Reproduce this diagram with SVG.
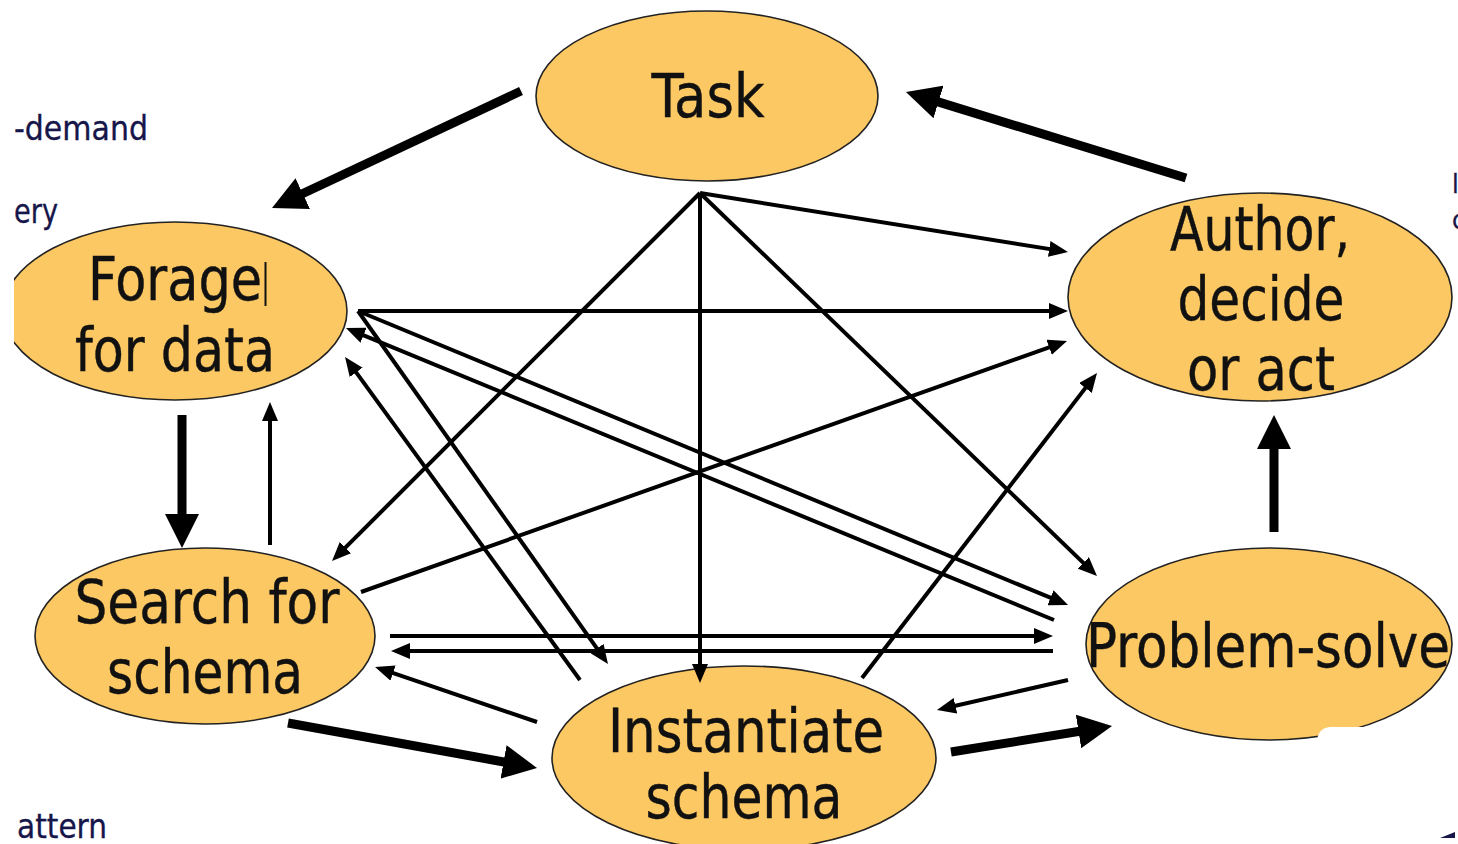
<svg xmlns="http://www.w3.org/2000/svg" width="1458" height="844" viewBox="0 0 1458 844">
  <style>
    .node ellipse { fill: #FCC863; stroke: #222; stroke-width: 1.6; }
    .label { font-family: "DejaVu Sans Condensed", "DejaVu Sans", sans-serif; font-size: 60px; fill: #111; stroke: #111; stroke-width: 0.4; text-anchor: middle; }
    .side { font-family: "DejaVu Sans Condensed", "DejaVu Sans", sans-serif; font-size: 33px; fill: #16164a; stroke: #16164a; stroke-width: 0.3; }
    .edge-frag { font-size: 27px; }
    .thin { stroke: #000; stroke-width: 4; fill: none; marker-end: url(#headThin); }
    .thick { stroke: #000; stroke-width: 9; fill: none; marker-end: url(#headThick); }
  </style>
  <defs>
    <clipPath id="frame">
      <rect x="14" y="10" width="1444" height="834"/>
    </clipPath>
    <marker id="headThin" markerUnits="userSpaceOnUse" markerWidth="19" markerHeight="16" refX="9" refY="8" orient="auto">
      <path d="M0,0 L19,8 L0,16 z" fill="#000"/>
    </marker>
    <marker id="headThick" markerUnits="userSpaceOnUse" markerWidth="34" markerHeight="34" refX="14" refY="17" orient="auto">
      <path d="M0,0 L34,17 L0,34 z" fill="#000"/>
    </marker>
  </defs>

  <rect width="1458" height="844" fill="#fff"/>

  <g clip-path="url(#frame)">
    <!-- margin text -->
    <g id="margin-text">
      <text class="side" x="14" y="140" textLength="134" lengthAdjust="spacingAndGlyphs">-demand</text>
      <text class="side" x="14" y="223" textLength="44" lengthAdjust="spacingAndGlyphs">ery</text>
      <text class="side" x="17" y="838" textLength="90" lengthAdjust="spacingAndGlyphs">attern</text>
      <text class="side edge-frag" x="1452" y="193">l</text>
      <text class="side edge-frag" x="1452" y="229">c</text>
    </g>

    <!-- nodes -->
    <g id="task" class="node">
      <ellipse cx="707" cy="96" rx="171" ry="85"/>
      <text class="label" x="708" y="117" textLength="113" lengthAdjust="spacingAndGlyphs">Task</text>
    </g>
    <g id="forage" class="node">
      <ellipse cx="175" cy="311" rx="172" ry="89"/>
      <text class="label" x="175" y="300" textLength="174" lengthAdjust="spacingAndGlyphs">Forage</text>
      <text class="label" x="175" y="371" textLength="200" lengthAdjust="spacingAndGlyphs">for data</text>
      <line x1="265.5" y1="262" x2="265.5" y2="306" stroke="#111" stroke-width="2"/>
    </g>
    <g id="search" class="node">
      <ellipse cx="205" cy="636" rx="170" ry="88"/>
      <text class="label" x="207" y="623" textLength="265" lengthAdjust="spacingAndGlyphs">Search for</text>
      <text class="label" x="205" y="693" textLength="196" lengthAdjust="spacingAndGlyphs">schema</text>
    </g>
    <g id="instantiate" class="node">
      <ellipse cx="744" cy="758" rx="192" ry="92"/>
      <text class="label" x="746" y="752" textLength="276" lengthAdjust="spacingAndGlyphs">Instantiate</text>
      <text class="label" x="744" y="818" textLength="197" lengthAdjust="spacingAndGlyphs">schema</text>
    </g>
    <g id="author" class="node">
      <ellipse cx="1260" cy="297" rx="192" ry="104"/>
      <text class="label" x="1260" y="250" textLength="180" lengthAdjust="spacingAndGlyphs">Author,</text>
      <text class="label" x="1261" y="320" textLength="167" lengthAdjust="spacingAndGlyphs">decide</text>
      <text class="label" x="1261" y="390" textLength="148" lengthAdjust="spacingAndGlyphs">or act</text>
    </g>
    <g id="problem-solve" class="node">
      <ellipse cx="1269" cy="644" rx="183" ry="96"/>
      <text class="label" x="1268" y="667" textLength="364" lengthAdjust="spacingAndGlyphs">Problem-solve</text>
    </g>

    <!-- patch covering the lower edge of the right-hand ellipse -->
    <path d="M1317,741 Q1318,728 1330,727 L1440,727 L1440,742 Z" fill="#fff"/>
    <path d="M1440,838 L1455,832 L1455,838 Z" fill="#16164a"/>

    <!-- connectors -->
    <g id="connectors">
      <!-- heavy main cycle -->
      <line class="thick" x1="521" y1="91" x2="290.1" y2="199.5"/>
      <line class="thick" x1="1186" y1="178" x2="925.1" y2="97.9"/>
      <line class="thick" x1="182" y1="415" x2="182" y2="528"/>
      <line class="thick" x1="288" y1="723" x2="517.3" y2="764.4"/>
      <line class="thick" x1="951" y1="752" x2="1092.3" y2="729.2"/>
      <line class="thick" x1="1274" y1="532" x2="1274" y2="435"/>

      <!-- light cross links -->
      <line class="thin" x1="270" y1="545" x2="270" y2="412"/>
      <line class="thin" x1="700" y1="193" x2="1058.1" y2="250.4"/>
      <line class="thin" x1="700" y1="193" x2="339.1" y2="553.9"/>
      <line class="thin" x1="700" y1="193" x2="700" y2="673"/>
      <line class="thin" x1="700" y1="193" x2="1089.8" y2="569.1"/>
      <line class="thin" x1="358" y1="311" x2="1058" y2="311"/>
      <line class="thin" x1="358" y1="311" x2="1058.8" y2="601.2"/>
      <line class="thin" x1="1054" y1="620" x2="355.2" y2="331.8"/>
      <line class="thin" x1="358" y1="311" x2="602.2" y2="655.8"/>
      <line class="thin" x1="580" y1="680" x2="350.9" y2="365.1"/>
      <line class="thin" x1="361" y1="592" x2="1057.6" y2="344.3"/>
      <line class="thin" x1="862" y1="678" x2="1090.9" y2="380.9"/>
      <line class="thin" x1="390" y1="636" x2="1043" y2="636"/>
      <line class="thin" x1="1053" y1="651" x2="401" y2="651"/>
      <line class="thin" x1="537" y1="722" x2="384.5" y2="670.2"/>
      <line class="thin" x1="1068" y1="680" x2="946.7" y2="707.8"/>
    </g>
  </g>
</svg>
